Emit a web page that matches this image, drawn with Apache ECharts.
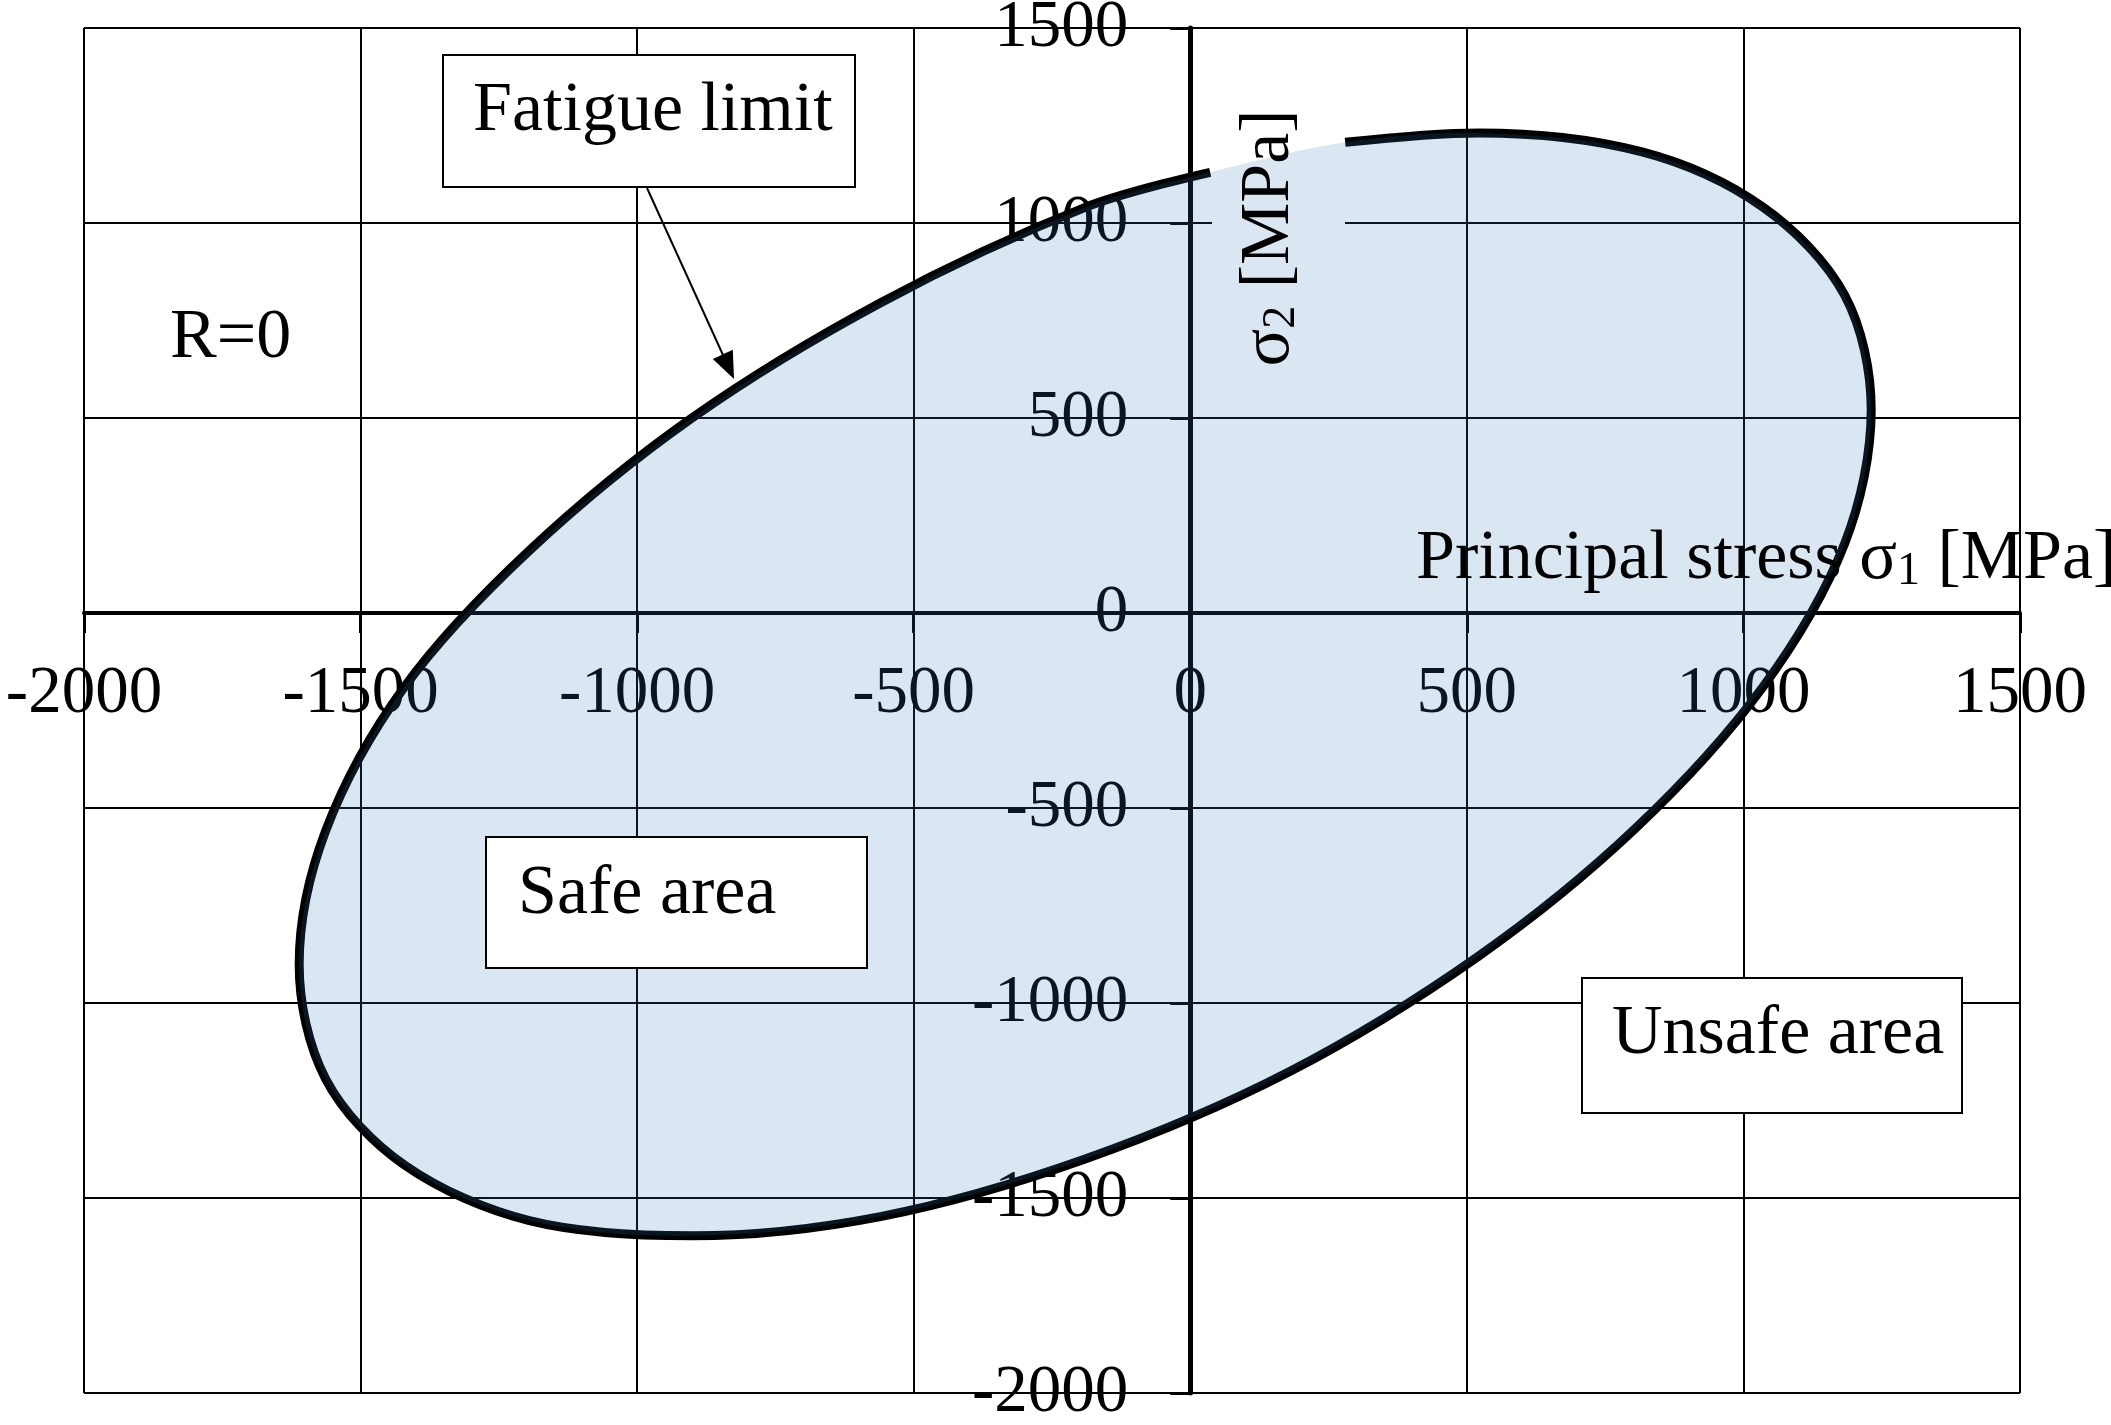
<!DOCTYPE html>
<html>
<head>
<meta charset="utf-8">
<script src="https://cdn.jsdelivr.net/npm/echarts@6/dist/echarts.min.js"></script>
<style>
html,body{margin:0;padding:0;background:#fff;}
#chart{width:2111px;height:1425px;}
</style>
</head>
<body>
<div id="chart"></div>
<script>
// Fatigue limit curve (principal stresses, MPa),
// starting right of the sigma2 label gap and running clockwise.
const sigma1 = [280, 521, 815, 1035, 1183, 1231, 1183, 1035, 805, 521, 178, -190, -558, -901, -1195, -1421, -1563, -1611, -1563, -1421, -1195, -901, -558, -190, 36];
const sigma2 = [1207, 1231, 1183, 1041, 815, 521, 178, -190, -552, -880, -1177, -1400, -1547, -1597, -1558, -1415, -1195, -901, -558, -190, 160, 500, 797, 1040, 1130];

const axisMin = -2000;
const axisMax = 1500;
const axisStep = 500;

const FONT = '"Liberation Serif", "Times New Roman", serif';
const FS = 67;   // tick labels
const FT = 70;   // annotation text

const curve = sigma1.map((x, i) => [x, sigma2[i]]);

const chart = echarts.init(document.getElementById('chart'), null, {renderer: 'canvas'});

function axisBase(lineWidth) {
  return {
    type: 'value',
    min: axisMin,
    max: axisMax,
    interval: axisStep,
    axisLine: {show: true, onZero: false, lineStyle: {color: '#000', width: lineWidth}},
    axisTick: {show: true, length: 20, lineStyle: {color: '#000', width: 3}},
    splitLine: {show: true, lineStyle: {color: '#000', width: 2}},
    splitArea: {show: false}
  };
}

const option = {
  backgroundColor: '#ffffff',
  animation: false,
  grid: {left: 84, right: 91, top: 28, bottom: 32, containLabel: false, outerBoundsMode: 'none'},
  xAxis: Object.assign(axisBase(4), {
    position: 'bottom',
    axisLabel: {margin: 48, fontFamily: FONT, fontSize: FS, color: '#000', formatter: v => String(v)}
  }),
  yAxis: Object.assign(axisBase(5), {
    position: 'left',
    axisLabel: {margin: 62, fontFamily: FONT, fontSize: FS, color: '#000', formatter: v => String(v)}
  }),
  series: [
    {
      type: 'line',
      z: 2,
      data: curve,
      smooth: 0.33,
      showSymbol: false,
      symbol: 'none',
      clip: false,
      lineStyle: {color: '#000', width: 9, cap: 'butt'}
    },
    {
      type: 'custom',
      z: 3,
      silent: true,
      clip: false,
      data: [curve[0]],
      renderItem: function (params, api) {
        const pts = curve.map(p => api.coord(p));
        return {
          type: 'polygon',
          shape: {points: pts, smooth: 0.33},
          style: {fill: 'rgba(50,115,180,0.18)', stroke: null}
        };
      }
    }
  ],
  graphic: [
    // white backing of the sigma2 axis title (interrupts grid line)
    {type: 'rect', z: 1, silent: true, shape: {x: 1212, y: 95, width: 133, height: 285}, style: {fill: '#fff'}},
    // sigma2 title
    {type: 'text', z: 25, x: 1270, y: 238, rotation: Math.PI / 2, silent: true,
      style: {
        text: '{a|σ}{s|2}{a| [MPa]}',
        align: 'center', verticalAlign: 'middle', fill: '#000',
        rich: {
          a: {fontFamily: FONT, fontSize: FT, lineHeight: 70, verticalAlign: 'middle', fill: '#000'},
          s: {fontFamily: FONT, fontSize: 46, lineHeight: 32, verticalAlign: 'bottom', fill: '#000'}
        }
      }},
    // sigma1 title
    {type: 'text', z: 25, x: 1416, y: 560, silent: true,
      style: {
        text: '{a|Principal stress σ}{s|1}{a| [MPa]}',
        align: 'left', verticalAlign: 'middle', fill: '#000',
        rich: {
          a: {fontFamily: FONT, fontSize: FT, lineHeight: 70, verticalAlign: 'middle', fill: '#000'},
          s: {fontFamily: FONT, fontSize: 46, lineHeight: 32, verticalAlign: 'bottom', fill: '#000'}
        }
      }},
    // R=0
    {type: 'text', z: 25, x: 170, y: 339, silent: true,
      style: {text: 'R=0', fontFamily: FONT, fontSize: FT, fill: '#000', align: 'left', verticalAlign: 'middle'}},
    // Fatigue limit box
    {type: 'rect', z: 20, silent: true, shape: {x: 443, y: 55, width: 412, height: 132},
      style: {fill: '#fff', stroke: '#000', lineWidth: 2}},
    {type: 'text', z: 25, x: 473, y: 112, silent: true,
      style: {text: 'Fatigue limit', fontFamily: FONT, fontSize: FT, fill: '#000', align: 'left', verticalAlign: 'middle'}},
    // arrow
    {type: 'line', z: 25, silent: true, shape: {x1: 647, y1: 188, x2: 723, y2: 355},
      style: {stroke: '#000', lineWidth: 2}},
    {type: 'polygon', z: 25, silent: true, shape: {points: [[734, 379], [712.8, 359.0], [732.8, 349.8]]},
      style: {fill: '#000'}},
    // Safe area box
    {type: 'rect', z: 20, silent: true, shape: {x: 486, y: 837, width: 381, height: 131},
      style: {fill: '#fff', stroke: '#000', lineWidth: 2}},
    {type: 'text', z: 25, x: 518, y: 895, silent: true,
      style: {text: 'Safe area', fontFamily: FONT, fontSize: FT, fill: '#000', align: 'left', verticalAlign: 'middle'}},
    // Unsafe area box
    {type: 'rect', z: 20, silent: true, shape: {x: 1582, y: 978, width: 380, height: 135},
      style: {fill: '#fff', stroke: '#000', lineWidth: 2}},
    {type: 'text', z: 25, x: 1612, y: 1035, silent: true,
      style: {text: 'Unsafe area', fontFamily: FONT, fontSize: FT, fill: '#000', align: 'left', verticalAlign: 'middle'}}
  ]
};

chart.setOption(option);

// Move both axes (line, ticks, labels) so they cross at the origin, using the chart's own scales.
const pOrigin = chart.convertToPixel({gridIndex: 0}, [0, 0]);
const pCorner = chart.convertToPixel({gridIndex: 0}, [axisMin, axisMin]);
chart.setOption({
  xAxis: {offset: pOrigin[1] - pCorner[1]},
  yAxis: {offset: pCorner[0] - pOrigin[0]}
});
</script>
</body>
</html>
